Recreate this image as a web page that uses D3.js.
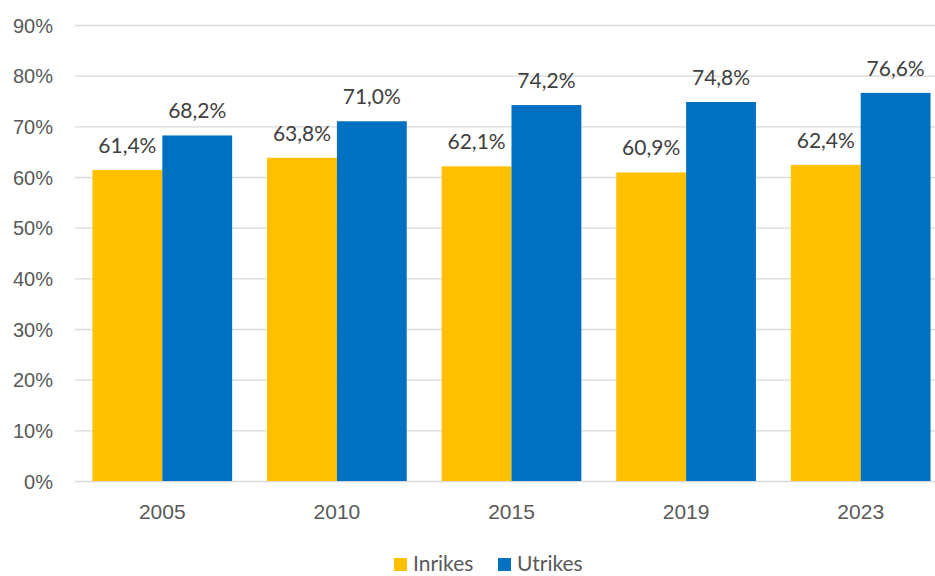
<!DOCTYPE html>
<html>
<head>
<meta charset="utf-8">
<script src="https://cdn.jsdelivr.net/npm/d3@7"></script>
<style>
  html, body { margin: 0; padding: 0; background: #fff; }
  svg { display: block; font-family: Lato, "Open Sans", sans-serif; }
</style>
</head>
<body>
<svg id="chart" width="935" height="576"></svg>
<script>
// Andel per år, inrikes och utrikes födda (procent)
const years = ["2005", "2010", "2015", "2019", "2023"];
const inrikes = [61.4, 63.8, 62.1, 60.9, 62.4];
const utrikes = [68.2, 71.0, 74.2, 74.8, 76.6];
const seriesNames = ["Inrikes", "Utrikes"];
const yTicks = [0, 10, 20, 30, 40, 50, 60, 70, 80, 90];

const colors = { Inrikes: "#FFC000", Utrikes: "#0070C0" };
const W = 935, H = 576;
const plot = { left: 75, right: 948, top: 25, bottom: 481 };

const svg = d3.select("#chart");

const x0 = d3.scaleBand().domain(years).range([plot.left, plot.right]).paddingInner(0.2).paddingOuter(0.1);
const x1 = d3.scaleBand().domain(seriesNames).range([0, x0.bandwidth()]).padding(0);
const y = d3.scaleLinear().domain([0, 90]).range([plot.bottom, plot.top]);

const fmt = v => v.toFixed(1).replace(".", ",") + "%";

// horisontella stödlinjer
svg.append("g").selectAll("line").data(yTicks).join("line")
  .attr("x1", plot.left).attr("x2", W)
  .attr("y1", d => y(d) + 0.5).attr("y2", d => y(d) + 0.5)
  .attr("stroke", "#D9D9D9").attr("stroke-width", 1.3);

// y-axel
const yAxis = d3.axisLeft(y).tickValues(yTicks).tickSize(0).tickPadding(0).tickFormat(d => d + "%");
svg.append("g").attr("transform", `translate(${plot.left - 22},0)`).call(yAxis)
  .call(g => g.select(".domain").remove())
  .call(g => g.selectAll("text").attr("fill", "#595959").attr("font-size", 20).attr("dy", "0.35em"));

// x-axel
const xAxis = d3.axisBottom(x0).tickSize(0).tickPadding(0);
svg.append("g").attr("transform", `translate(0,${plot.bottom + 23})`).call(xAxis)
  .call(g => g.select(".domain").remove())
  .call(g => g.selectAll("text").attr("fill", "#595959").attr("font-size", 21).attr("dy", "0.71em"));

const rows = years.map((yr, i) => ({ year: yr, values: [
  { key: "Inrikes", value: inrikes[i] },
  { key: "Utrikes", value: utrikes[i] }
]}));

const groups = svg.append("g").selectAll("g").data(rows).join("g")
  .attr("transform", d => `translate(${x0(d.year)},0)`);

groups.selectAll("rect").data(d => d.values).join("rect")
  .attr("x", d => x1(d.key))
  .attr("width", x1.bandwidth())
  .attr("y", d => y(d.value))
  .attr("height", d => y(0) - y(d.value))
  .attr("fill", d => colors[d.key]);

groups.selectAll("text").data(d => d.values).join("text")
  .attr("x", d => x1(d.key) + x1.bandwidth() / 2)
  .attr("y", d => y(d.value) - 17)
  .attr("text-anchor", "middle")
  .attr("fill", "#404040")
  .attr("font-size", 21)
  .text(d => fmt(d.value));

// teckenförklaring
const legend = svg.append("g").attr("transform", "translate(394,558)");
const items = [{ key: "Inrikes", x: 0 }, { key: "Utrikes", x: 104 }];
items.forEach(it => {
  const g = legend.append("g").attr("transform", `translate(${it.x},0)`);
  g.append("rect").attr("width", 13).attr("height", 13).attr("fill", colors[it.key]);
  g.append("text").attr("x", 19).attr("y", 13).attr("fill", "#595959")
    .attr("font-size", 21).text(it.key);
});
</script>
</body>
</html>
